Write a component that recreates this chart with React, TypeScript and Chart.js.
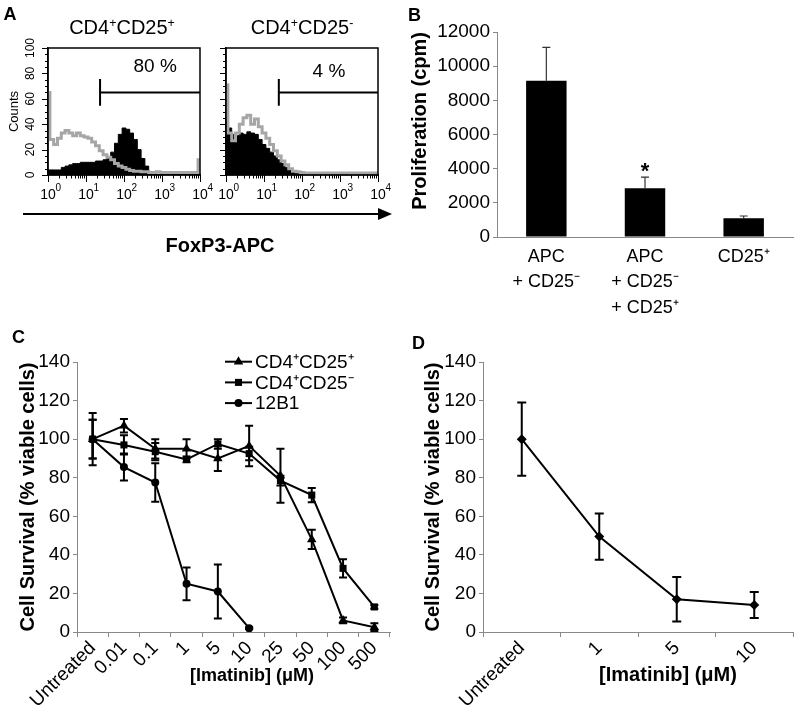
import React, { useEffect, useRef } from 'react';
import { Chart, registerables } from 'chart.js';

Chart.register(...registerables);

const FONT = '"Liberation Sans", Arial, Helvetica, sans-serif';

// ---------- Panel A : FoxP3 histograms (x in log10 units) ----------
const histLogBins = [0, 0.1, 0.2, 0.3, 0.4, 0.5, 0.6, 0.7, 0.8, 0.9, 1, 1.1, 1.2, 1.3, 1.4, 1.5, 1.6, 1.7, 1.8, 1.9, 2, 2.1, 2.2, 2.3, 2.4, 2.5, 2.6, 2.7, 2.8, 2.9, 3, 3.1, 3.2, 3.3, 3.4, 3.5, 3.6, 3.7, 3.8, 3.9, 4];
const tregIsotype = [65, 28, 24, 29, 33, 35, 33, 31, 33, 31, 30, 29, 26, 23, 19, 16, 14, 12, 9, 7, 6, 4.5, 3.5, 3, 3, 2.5, 2.5, 2, 2, 2.5, 2, 2, 2, 2, 2, 2, 2, 2, 2, 2, 12];
const tregFoxp3 = [4, 4, 4, 4, 6, 7, 8, 9, 9, 10, 10, 10, 10, 11, 11, 12, 14, 18, 25, 32, 37, 36, 33, 28, 20, 13, 7, 2, 0.5, 0, 0, 0, 0, 0, 0, 0, 0, 0, 0, 0, 0];
const teffIsotype = [71, 33, 27, 33, 40, 45, 47, 40, 44, 38, 33, 29, 24, 19, 15, 11, 8, 5, 3, 2.5, 2, 1.5, 1.5, 1.5, 1.5, 1.5, 1.5, 1.5, 1.5, 1.5, 1.5, 1.5, 1.5, 1.5, 1.5, 1.5, 1.5, 1.5, 1.5, 1.5, 1.5];
const teffFoxp3 = [43, 37, 32, 31, 33, 32, 34, 33, 32, 28, 24, 21, 18, 15, 12, 9, 6, 4, 2.5, 1.5, 1, 1, 1.5, 1, 1, 0.5, 1, 0.5, 0, 0, 0, 0, 0, 0, 0, 0, 0, 0, 0, 0, 0];
const histDecadeBase = '10';
const histDecadeExponents = ['0', '1', '2', '3', '4'];
const histYTicks = [0, 5, 10, 15, 20, 25, 30, 35, 40, 45, 50, 55, 60, 65, 70, 75, 80, 85, 90, 95, 100];
const tregGate = { start: 1.37, end: 4, level: 65, half: 10.5, label: '80 %', labelX: 2.82, labelY: 85 };
const teffGate = { start: 1.39, end: 4, level: 65, half: 10.5, label: '4 %', labelX: 2.71, labelY: 81 };

// ---------- Panel B : proliferation ----------
const bCategories = [['APC', '+ CD25⁻'], ['APC', '+ CD25⁻', '+ CD25⁺'], ['CD25⁺']];
const bValues = [9150, 2850, 1100];
const bErrors = [1950, 650, 130];

// ---------- Panel C : imatinib survival ----------
const cDoses = ['Untreated', '0.01', '0.1', '1', '5', '10', '25', '50', '100', '500'];
const cTregValues = [100, 107, 95, 95, 90, 96.5, 81, 48, 6, 2.5];
const cTregErrors = [10, 3.5, 5, 5, 6.5, 10.5, 14, 5, 1.5, 2];
const cTeffValues = [100, 97, 93.5, 89.5, 97.5, 92.5, 78.5, 71, 33, 13];
const cTeffErrors = [13.5, 5, 4.5, 1.5, 2.5, 3.5, 2.5, 3.7, 4.7, 1];
const c12b1Values = [100, 85.5, 77.5, 25, 21, 2, null, null, null, null];
const c12b1Errors = [10, 7, 10, 8.5, 14, 0.5, null, null, null, null];
const cSeriesLabels = ['CD4⁺CD25⁺', 'CD4⁺CD25⁻', '12B1'];

// ---------- Panel D ----------
const dDoses = ['Untreated', '1', '5', '10'];
const dValues = [100, 49.5, 17, 14];
const dErrors = [19, 12, 11.5, 6.8];

// ---------- plugins ----------
const boxPlugin = {
  id: 'plotBox',
  afterDatasetsDraw(chart: any) {
    const { ctx, chartArea: a } = chart;
    ctx.save();
    ctx.strokeStyle = '#000';
    ctx.lineWidth = 1.5;
    ctx.strokeRect(a.left, a.top, a.right - a.left, a.bottom - a.top);
    ctx.restore();
  },
};

function isDecade(v: number) {
  return Math.abs(v - Math.round(v)) < 1e-9;
}

function histXTickValues() {
  const vals: number[] = [];
  for (let d = 0; d < 4; d++) for (let k = 1; k <= 9; k++) vals.push(d + Math.log10(k));
  vals.push(4);
  return vals;
}

const histTicksPlugin = {
  id: 'histTicks',
  afterDatasetsDraw(chart: any) {
    const { ctx, chartArea: a } = chart;
    const xs = chart.scales.x;
    const ys = chart.scales.y;
    ctx.save();
    ctx.strokeStyle = '#000';
    ctx.lineWidth = 1;
    ctx.beginPath();
    histXTickValues().forEach((v) => {
      const px = Math.round(xs.getPixelForValue(v)) + 0.5;
      ctx.moveTo(px, a.bottom);
      ctx.lineTo(px, a.bottom + (isDecade(v) ? 7 : 3.5));
    });
    histYTicks.forEach((v) => {
      const py = Math.round(ys.getPixelForValue(v)) + 0.5;
      ctx.moveTo(a.left, py);
      ctx.lineTo(a.left - (v % 20 === 0 ? 6 : 3), py);
    });
    ctx.stroke();
    ctx.fillStyle = '#000';
    ctx.font = `10px ${FONT}`;
    ctx.textAlign = 'left';
    ctx.textBaseline = 'middle';
    histDecadeExponents.forEach((e, d) => {
      ctx.fillText(e, xs.getPixelForValue(d) + 7.5, a.bottom + 13);
    });
    ctx.restore();
  },
};

const gatePlugin = {
  id: 'gate',
  afterDatasetsDraw(chart: any, _args: any, o: any) {
    const { ctx } = chart;
    const xs = chart.scales.x;
    const ys = chart.scales.y;
    const px = xs.getPixelForValue(o.start);
    const py = ys.getPixelForValue(o.level);
    ctx.save();
    ctx.strokeStyle = '#000';
    ctx.lineWidth = 2;
    ctx.beginPath();
    ctx.moveTo(px, ys.getPixelForValue(o.level + o.half));
    ctx.lineTo(px, ys.getPixelForValue(o.level - o.half));
    ctx.moveTo(px, py);
    ctx.lineTo(xs.getPixelForValue(o.end), py);
    ctx.stroke();
    ctx.fillStyle = '#000';
    ctx.font = `19px ${FONT}`;
    ctx.textAlign = 'center';
    ctx.textBaseline = 'middle';
    ctx.fillText(o.label, xs.getPixelForValue(o.labelX), ys.getPixelForValue(o.labelY));
    ctx.restore();
  },
};

const errorBarPlugin = {
  id: 'errorBars',
  beforeDatasetsDraw(chart: any, _args: any, o: any) {
    const { ctx } = chart;
    const ys = chart.scales.y;
    chart.data.datasets.forEach((ds: any, i: number) => {
      const errs = ds.errors;
      if (!errs) return;
      const meta = chart.getDatasetMeta(i);
      meta.data.forEach((el: any, j: number) => {
        const v = ds.data[j];
        const e = errs[j];
        if (v == null || e == null) return;
        const x = el.x;
        const top = ys.getPixelForValue(v + e);
        const bot = o.upperOnly ? ys.getPixelForValue(v) : ys.getPixelForValue(Math.max(v - e, 0));
        ctx.save();
        ctx.strokeStyle = o.color;
        ctx.lineWidth = o.width;
        ctx.beginPath();
        ctx.moveTo(x, top);
        ctx.lineTo(x, bot);
        ctx.moveTo(x - o.cap, top);
        ctx.lineTo(x + o.cap, top);
        if (!o.upperOnly) {
          ctx.moveTo(x - o.cap, bot);
          ctx.lineTo(x + o.cap, bot);
        }
        ctx.stroke();
        ctx.restore();
      });
    });
  },
};

const sigPlugin = {
  id: 'sig',
  afterDatasetsDraw(chart: any, _args: any, o: any) {
    const { ctx } = chart;
    const ds = chart.data.datasets[0];
    const el = chart.getDatasetMeta(0).data[o.index];
    const top = chart.scales.y.getPixelForValue(ds.data[o.index] + ds.errors[o.index]);
    ctx.save();
    ctx.fillStyle = '#000';
    ctx.font = `bold 22px ${FONT}`;
    ctx.textAlign = 'center';
    ctx.textBaseline = 'alphabetic';
    ctx.fillText(o.text, el.x, top + 1);
    ctx.restore();
  },
};

function drawMarker(ctx: CanvasRenderingContext2D, style: string, x: number, y: number, r: number) {
  ctx.beginPath();
  if (style === 'triangle') {
    ctx.moveTo(x, y - r);
    ctx.lineTo(x + 0.866 * r, y + 0.5 * r);
    ctx.lineTo(x - 0.866 * r, y + 0.5 * r);
    ctx.closePath();
  } else if (style === 'rect') {
    const s = r * Math.SQRT1_2;
    ctx.rect(x - s, y - s, 2 * s, 2 * s);
  } else {
    ctx.arc(x, y, r, 0, Math.PI * 2);
  }
  ctx.fill();
}

const lineLegendPlugin = {
  id: 'lineLegend',
  afterDraw(chart: any, _args: any, o: any) {
    const { ctx } = chart;
    ctx.save();
    chart.data.datasets.forEach((ds: any, i: number) => {
      const y = o.y + i * o.gap;
      ctx.strokeStyle = '#000';
      ctx.fillStyle = '#000';
      ctx.lineWidth = 2;
      ctx.beginPath();
      ctx.moveTo(o.x, y);
      ctx.lineTo(o.x + o.lineLen, y);
      ctx.stroke();
      drawMarker(ctx, ds.pointStyle, o.x + o.lineLen / 2, y, ds.pointRadius);
      ctx.font = `19px ${FONT}`;
      ctx.textAlign = 'left';
      ctx.textBaseline = 'middle';
      ctx.fillText(ds.label, o.x + o.lineLen + 3, y + 1);
    });
    ctx.restore();
  },
};

// ---------- configs ----------
function histConfig(gray: number[], black: number[], gate: any, showY: boolean, yWidth: number, padRight: number) {
  return {
    type: 'line',
    data: {
      datasets: [
        { label: 'Isotype', data: histLogBins.map((x, i) => ({ x, y: gray[i] })), borderColor: '#a6a6a6', borderWidth: 3, pointRadius: 0, stepped: 'middle', fill: false },
        { label: 'FoxP3', data: histLogBins.map((x, i) => ({ x, y: black[i] })), borderColor: '#000', backgroundColor: '#000', borderWidth: 1, pointRadius: 0, stepped: 'middle', fill: 'origin' },
      ],
    },
    plugins: [gatePlugin, boxPlugin, histTicksPlugin],
    options: {
      animation: false,
      responsive: false,
      events: [],
      layout: { padding: { top: 48, right: padRight, bottom: 5, left: 0 } },
      plugins: { legend: { display: false }, tooltip: { enabled: false }, gate },
      scales: {
        x: {
          type: 'linear', min: 0, max: 4,
          afterBuildTicks: (s: any) => { s.ticks = histXTickValues().map((v) => ({ value: v })); },
          afterFit: (s: any) => { s.height = 25; },
          ticks: {
            autoSkip: false, maxRotation: 0, minRotation: 0, color: '#000', padding: 12,
            font: { family: FONT, size: 14 },
            callback: (v: number) => (isDecade(v) ? histDecadeBase : ''),
          },
          grid: { display: false, drawTicks: false },
          border: { color: '#000', width: 1.5 },
        },
        y: {
          min: 0, max: 100,
          afterBuildTicks: (s: any) => { s.ticks = histYTicks.map((v) => ({ value: v })); },
          afterFit: (s: any) => { s.width = yWidth; },
          ticks: {
            minRotation: 90, maxRotation: 90, crossAlign: 'center', padding: 7, color: '#000',
            font: { family: FONT, size: 12 },
            callback: (v: number) => (showY && v % 20 === 0 ? String(v) : ''),
          },
          grid: { display: false, drawTicks: false },
          border: { color: '#000', width: 1.5 },
          title: { display: showY, text: 'Counts', color: '#000', font: { family: FONT, size: 13 }, padding: { top: 7, bottom: 0 } },
        },
      },
    },
  };
}

function barConfig() {
  return {
    type: 'bar',
    data: {
      labels: bCategories,
      datasets: [{ label: 'Proliferation', data: bValues, errors: bErrors, backgroundColor: '#000', borderWidth: 0, barPercentage: 0.41, categoryPercentage: 1 }],
    },
    plugins: [errorBarPlugin, sigPlugin],
    options: {
      animation: false,
      responsive: false,
      events: [],
      layout: { padding: { top: 32, right: 7, left: 0, bottom: 0 } },
      plugins: {
        legend: { display: false }, tooltip: { enabled: false },
        errorBars: { color: '#333', width: 1.2, cap: 4, upperOnly: true },
        sig: { index: 1, text: '*' },
      },
      scales: {
        x: {
          afterFit: (s: any) => { s.height = 93; },
          grid: { display: false, drawTicks: false },
          border: { color: '#888', width: 1 },
          ticks: { color: '#000', font: { family: FONT, size: 18, lineHeight: 1.39 }, padding: 8, maxRotation: 0 },
        },
        y: {
          min: 0, max: 12000,
          afterFit: (s: any) => { s.width = 97; },
          ticks: { stepSize: 2000, color: '#000', font: { family: FONT, size: 19 }, padding: 3, callback: (v: number) => String(v) },
          grid: { drawOnChartArea: false, tickLength: 4, color: '#888' },
          border: { color: '#888', width: 1 },
          title: { display: true, text: 'Proliferation (cpm)', align: 'end', color: '#000', font: { family: FONT, size: 20, weight: 'bold' }, padding: { top: 8, bottom: 0 } },
        },
      },
    },
  };
}

function survivalScales(yWidth: number, titlePad: number) {
  return {
    x: {
      offset: true,
      afterFit: (s: any) => { s.height = 94; },
      grid: { offset: true, drawOnChartArea: false, tickLength: 5, color: '#888' },
      border: { color: '#888', width: 1 },
      ticks: { autoSkip: false, minRotation: 45, maxRotation: 45, color: '#000', font: { family: FONT, size: 19 }, padding: 0 },
    },
    y: {
      min: 0, max: 140,
      afterFit: (s: any) => { s.width = yWidth; },
      ticks: { stepSize: 20, color: '#000', font: { family: FONT, size: 19 }, padding: 3 },
      grid: { drawOnChartArea: false, tickLength: 4, color: '#888' },
      border: { color: '#888', width: 1 },
      title: { display: true, text: 'Cell Survival (% viable cells)', color: '#000', font: { family: FONT, size: 20, weight: 'bold' }, padding: { top: titlePad, bottom: 0 } },
    },
  };
}

const lineStyle = { borderColor: '#000', backgroundColor: '#000', borderWidth: 2, pointBorderWidth: 0, tension: 0, spanGaps: false };

function cConfig() {
  return {
    type: 'line',
    data: {
      labels: cDoses,
      datasets: [
        { ...lineStyle, label: cSeriesLabels[0], data: cTregValues, errors: cTregErrors, pointStyle: 'triangle', pointRadius: 5.5 },
        { ...lineStyle, label: cSeriesLabels[1], data: cTeffValues, errors: cTeffErrors, pointStyle: 'rect', pointRadius: 5 },
        { ...lineStyle, label: cSeriesLabels[2], data: c12b1Values, errors: c12b1Errors, pointStyle: 'circle', pointRadius: 4 },
      ],
    },
    plugins: [errorBarPlugin, lineLegendPlugin],
    options: {
      animation: false,
      responsive: false,
      events: [],
      layout: { padding: { top: 32, right: 10, left: 0, bottom: 0 } },
      plugins: {
        legend: { display: false }, tooltip: { enabled: false },
        errorBars: { color: '#000', width: 2, cap: 4 },
        lineLegend: { x: 225, y: 31.7, gap: 20.7, lineLen: 27 },
      },
      scales: survivalScales(77, 16),
    },
  };
}

function dConfig() {
  return {
    type: 'line',
    data: {
      labels: dDoses,
      datasets: [{ ...lineStyle, label: 'Survival', data: dValues, errors: dErrors, pointStyle: 'rectRot', pointRadius: 5 }],
    },
    plugins: [errorBarPlugin],
    options: {
      animation: false,
      responsive: false,
      events: [],
      layout: { padding: { top: 32, right: 7, left: 0, bottom: 0 } },
      plugins: {
        legend: { display: false }, tooltip: { enabled: false },
        errorBars: { color: '#000', width: 2, cap: 4.5 },
      },
      scales: survivalScales(83, 21),
    },
  };
}

// ---------- components ----------
function ChartBox({ left, top, width, height, make }: { left: number; top: number; width: number; height: number; make: () => any }) {
  const ref = useRef<HTMLCanvasElement>(null);
  useEffect(() => {
    const chart = new Chart(ref.current as HTMLCanvasElement, make());
    return () => chart.destroy();
  }, []);
  return <canvas ref={ref} width={width} height={height} style={{ position: 'absolute', left, top, width, height, display: 'block' }} />;
}

function Txt({ x, y, size, bold, children }: { x: number; y: number; size: number; bold?: boolean; children: any }) {
  return (
    <div style={{ position: 'absolute', left: x, top: y, transform: 'translate(-50%, -50%)', fontSize: size, fontWeight: bold ? 700 : 400, lineHeight: 1, whiteSpace: 'nowrap', fontFamily: FONT, color: '#000' }}>
      {children}
    </div>
  );
}

const supStyle: React.CSSProperties = { fontSize: '0.62em', verticalAlign: '0.6em', lineHeight: 0 };

export default function App() {
  return (
    <div style={{ position: 'absolute', left: 0, top: 0, width: 800, height: 726, background: '#fff', overflow: 'hidden', fontFamily: FONT }}>
      <ChartBox left={0} top={0} width={224} height={205} make={() => histConfig(tregIsotype, tregFoxp3, tregGate, true, 48, 24)} />
      <ChartBox left={200} top={0} width={200} height={205} make={() => histConfig(teffIsotype, teffFoxp3, teffGate, false, 26, 22)} />
      <ChartBox left={400} top={0} width={400} height={330} make={barConfig} />
      <ChartBox left={0} top={330} width={400} height={396} make={cConfig} />
      <ChartBox left={400} top={330} width={400} height={396} make={dConfig} />

      <svg width={800} height={726} style={{ position: 'absolute', left: 0, top: 0, pointerEvents: 'none' }}>
        <line x1={23} y1={214} x2={382} y2={214} stroke="#000" strokeWidth={2} />
        <polygon points="378,208 392,214 378,220" fill="#000" />
      </svg>

      <Txt x={10} y={14} size={18} bold>A</Txt>
      <Txt x={414.5} y={14.5} size={18} bold>B</Txt>
      <Txt x={18.5} y={337} size={18} bold>C</Txt>
      <Txt x={418.5} y={342.5} size={18} bold>D</Txt>
      <Txt x={122} y={27} size={20}>CD4<span style={supStyle}>+</span>CD25<span style={supStyle}>+</span></Txt>
      <Txt x={302} y={27} size={20}>CD4<span style={supStyle}>+</span>CD25<span style={supStyle}>-</span></Txt>
      <Txt x={220} y={245} size={20} bold>FoxP3-APC</Txt>
      <Txt x={252} y={675} size={18} bold>[Imatinib] (μM)</Txt>
      <Txt x={668} y={674} size={20} bold>[Imatinib] (μM)</Txt>
    </div>
  );
}
